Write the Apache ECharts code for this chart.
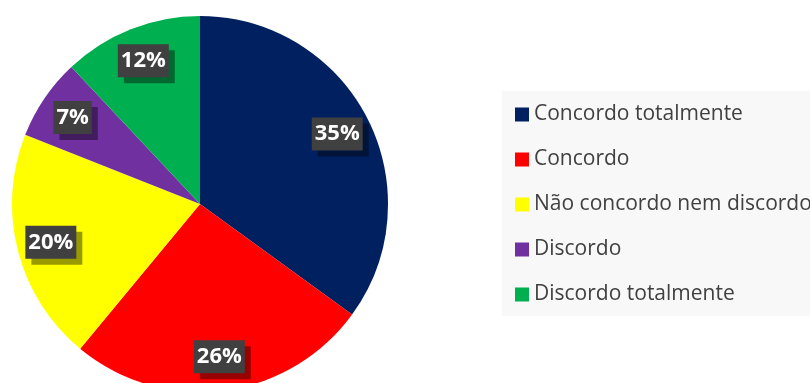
<!DOCTYPE html>
<html>
<head>
<meta charset="utf-8">
<script src="https://cdn.jsdelivr.net/npm/echarts@6/dist/echarts.min.js"></script>
<style>
  html, body { margin: 0; padding: 0; background: #ffffff; }
  #chart { width: 810px; height: 383px; }
</style>
</head>
<body>
<div id="chart"></div>
<script>
// Survey answers and their shares (%)
const categories = [
  'Concordo totalmente',
  'Concordo',
  'Não concordo nem discordo',
  'Discordo',
  'Discordo totalmente'
];
const shares = [35, 26, 20, 7, 12];
const colors = ['#002060', '#FF0000', '#FFFF00', '#7030A0', '#00B050'];

const chart = echarts.init(document.getElementById('chart'));

const slices = categories.map((name, i) => ({
  name: name,
  value: shares[i],
  itemStyle: { color: colors[i] }
}));

// Transparent ring on top of the pie only carries the percentage labels,
// so they sit near the outer edge of each slice.
const labelRing = categories.map((name, i) => ({
  name: name,
  value: shares[i],
  itemStyle: { color: 'rgba(0,0,0,0)' }
}));

chart.setOption({
  animation: false,
  color: colors,
  legend: {
    orient: 'vertical',
    left: 502,
    top: 91,
    padding: [13, 40, 11, 13],
    backgroundColor: '#f8f8f8',
    icon: 'rect',
    itemWidth: 14,
    itemHeight: 14,
    itemGap: 24,
    data: categories,
    textStyle: {
      fontFamily: 'Open Sans',
      fontSize: 21,
      lineHeight: 21,
      color: '#404040'
    }
  },
  series: [
    {
      type: 'pie',
      center: [200, 204],
      radius: [0, 188],
      startAngle: 90,
      clockwise: true,
      silent: true,
      label: { show: false },
      labelLine: { show: false },
      data: slices
    },
    {
      type: 'pie',
      center: [200, 204],
      radius: [114, 188],
      startAngle: 90,
      clockwise: true,
      silent: true,
      legendHoverLink: false,
      labelLine: { show: false },
      label: {
        show: true,
        position: 'inside',
        formatter: '{c}%',
        fontFamily: 'Open Sans',
        fontWeight: 'bold',
        fontSize: 22,
        lineHeight: 24,
        color: '#ffffff',
        backgroundColor: '#404040',
        padding: [5, 3, 4, 3],
        shadowColor: 'rgba(0,0,0,0.4)',
        shadowOffsetX: 6,
        shadowOffsetY: 6,
        shadowBlur: 0
      },
      data: labelRing
    }
  ]
});
</script>
</body>
</html>
